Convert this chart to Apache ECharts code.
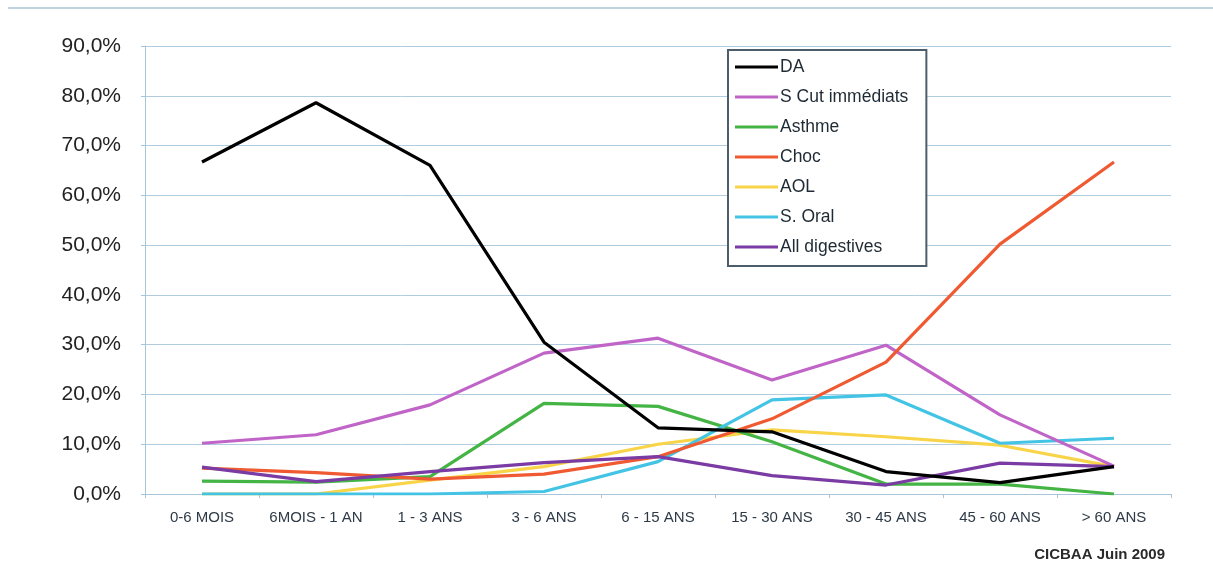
<!DOCTYPE html>
<html>
<head>
<meta charset="utf-8">
<script src="https://cdn.jsdelivr.net/npm/echarts@6/dist/echarts.min.js"></script>
<style>
html,body{margin:0;padding:0;background:#fff;}
#c{width:1213px;height:584px;}
</style>
</head>
<body>
<div id="c"></div>
<script>
const categories = ['0-6 MOIS','6MOIS - 1 AN','1 - 3 ANS','3 - 6 ANS','6 - 15 ANS','15 - 30 ANS','30 - 45 ANS','45 - 60 ANS','> 60 ANS'];
const yTicks = [0,10,20,30,40,50,60,70,80,90];
const DA            = [66.7, 78.6, 66.0, 30.5, 13.3, 12.5, 4.5, 2.3, 5.5];
const SCut          = [10.2, 11.9, 17.9, 28.3, 31.3, 22.9, 29.9, 15.9, 5.6];
const Asthme        = [2.6, 2.4, 3.5, 18.2, 17.6, 10.5, 2.0, 2.0, 0.0];
const Choc          = [5.2, 4.3, 3.0, 4.0, 7.5, 15.1, 26.5, 50.2, 66.7];
const AOL           = [0.0, 0.0, 2.8, 5.5, 10.0, 12.9, 11.5, 9.8, 5.5];
const SOral         = [0.0, 0.0, 0.0, 0.5, 6.5, 18.9, 19.9, 10.2, 11.2];
const AllDigestives = [5.4, 2.5, 4.5, 6.3, 7.5, 3.7, 1.8, 6.2, 5.5];

const seriesDefs = [
  {name:'DA', data:DA, color:'#000000', z:10},
  {name:'S Cut immédiats', data:SCut, color:'#c064c8', z:4},
  {name:'Asthme', data:Asthme, color:'#44b444', z:3},
  {name:'Choc', data:Choc, color:'#f05a32', z:5},
  {name:'AOL', data:AOL, color:'#f8d448', z:2},
  {name:'S. Oral', data:SOral, color:'#44c4e4', z:3},
  {name:'All digestives', data:AllDigestives, color:'#7a3ca4', z:6}
];

const FONT = 'Arial, "Liberation Sans", sans-serif';
const chart = echarts.init(document.getElementById('c'));
chart.setOption({
  animation:false,
  backgroundColor:'#ffffff',
  graphic:[
    {type:'line', shape:{x1:8,y1:8,x2:1213,y2:8}, style:{stroke:'#c0d4e0',lineWidth:2}},
    {type:'text', right:48, top:547, style:{text:'CICBAA Juin 2009', font:'bold 15px ' + FONT, fill:'#2a2a2a'}}
  ],
  grid:{left:145, right:42, top:46, bottom:90},
  legend:{
    orient:'vertical', left:728, top:50,
    padding:[8,18,10,7],
    itemGap:12, itemWidth:43, itemHeight:18,
    borderColor:'#4c5e6c', borderWidth:2,
    backgroundColor:'#fff',
    icon:'path://M0,7.5 L43,7.5 L43,10.5 L0,10.5 Z',
    textStyle:{fontSize:17.5, lineHeight:18, color:'#1e2a34', fontFamily:FONT, padding:[0,0,0,-3]},
    data:seriesDefs.map(s=>s.name)
  },
  xAxis:{
    type:'category', data:categories, boundaryGap:true,
    axisLine:{lineStyle:{color:'#a8c4d8', width:1}},
    axisTick:{show:true, length:4, lineStyle:{color:'#a8c4d8'}},
    axisLabel:{fontSize:15, color:'#2e3a46', margin:16, fontFamily:FONT, interval:0}
  },
  yAxis:{
    type:'value', min:0, max:90, interval:10,
    axisLine:{show:true, lineStyle:{color:'#a8c4d8', width:1}},
    axisTick:{show:true, length:4, lineStyle:{color:'#a8c4d8'}},
    splitLine:{lineStyle:{color:'#b0cce0', width:1}},
    axisLabel:{fontSize:21, color:'#222', margin:24, fontFamily:FONT,
      formatter:v=>v.toFixed(1).replace('.',',')+'%'}
  },
  series:seriesDefs.map(s=>({
    name:s.name, type:'line', data:s.data, z:s.z,
    symbol:'none', showSymbol:false,
    lineStyle:{color:s.color, width:3.2},
    itemStyle:{color:s.color}
  }))
});
</script>
</body>
</html>
